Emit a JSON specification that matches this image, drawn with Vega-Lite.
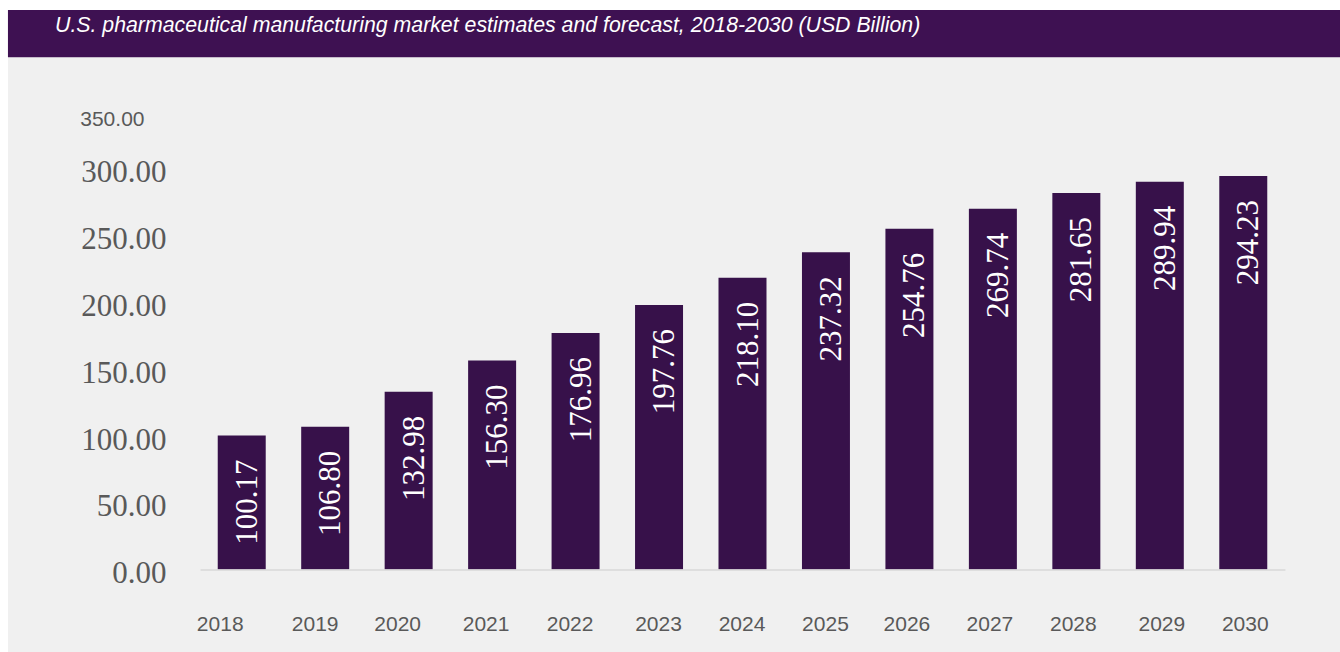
{
  "$schema": "https://vega.github.io/schema/vega-lite/v6.json",
  "autosize": {"type": "none"},
  "width": 1085,
  "height": 468,
  "padding": {"left": 200, "top": 101.5, "right": 55, "bottom": 82.5},
  "background": "#ffffff",
  "title": {
    "text": "U.S. pharmaceutical manufacturing market estimates and forecast, 2018-2030 (USD Billion)",
    "anchor": "start",
    "frame": "group",
    "dx": -145,
    "offset": -43.5,
    "baseline": "alphabetic",
    "font": "Liberation Sans",
    "fontSize": 21.3,
    "fontStyle": "italic",
    "fontWeight": "normal",
    "color": "#ffffff",
    "zindex": 2
  },
  "data": {
    "values": [
      {"year": 2018, "value": 100.17},
      {"year": 2019, "value": 106.80},
      {"year": 2020, "value": 132.98},
      {"year": 2021, "value": 156.30},
      {"year": 2022, "value": 176.96},
      {"year": 2023, "value": 197.76},
      {"year": 2024, "value": 218.10},
      {"year": 2025, "value": 237.32},
      {"year": 2026, "value": 254.76},
      {"year": 2027, "value": 269.74},
      {"year": 2028, "value": 281.65},
      {"year": 2029, "value": 289.94},
      {"year": 2030, "value": 294.23}
    ]
  },
  "layer": [
    {
      "data": {"values": [{"part": "background"}]},
      "mark": {"type": "rect", "color": "#f0f0f0", "clip": false},
      "encoding": {
        "x": {"datum": -0.177, "type": "quantitative", "scale": {"domain": [0, 1]}, "axis": null},
        "x2": {"datum": 1.06},
        "y": {"datum": -62, "type": "quantitative"},
        "y2": {"datum": 383.1}
      }
    },
    {
      "data": {"values": [{"part": "header"}]},
      "mark": {"type": "rect", "color": "#3e1152", "clip": false},
      "encoding": {
        "x": {"datum": -0.177, "type": "quantitative", "scale": {"domain": [0, 1]}, "axis": null},
        "x2": {"datum": 1.06},
        "y": {"datum": 383.1, "type": "quantitative"},
        "y2": {"datum": 418.4}
      }
    },
    {
      "layer": [
        {
          "mark": {"type": "bar", "color": "#37114a"},
          "encoding": {
            "x": {
              "field": "year",
              "type": "ordinal",
              "scale": {"paddingInner": 0.425, "paddingOuter": 0.2125},
              "axis": {
                "title": null,
                "zindex": 1,
                "ticks": false,
                "tickSize": 0,
                "domain": true,
                "domainColor": "#d9d9d9",
                "domainWidth": 1.5,
                "labelAngle": 0,
                "labelFont": "Liberation Sans",
                "labelFontSize": 21,
                "labelColor": "#595959",
                "labelPadding": 44,
                "labelBaseline": "top",
                "labelOffset": {
                  "condition": [
                    {"test": "datum.value == 2018", "value": -21.5},
                    {"test": "datum.value == 2019", "value": -10},
                    {"test": "datum.value == 2020", "value": -11},
                    {"test": "datum.value == 2021", "value": -6},
                    {"test": "datum.value == 2022", "value": -5.5},
                    {"test": "datum.value == 2026", "value": -2.5},
                    {"test": "datum.value == 2027", "value": -3},
                    {"test": "datum.value == 2028", "value": -3},
                    {"test": "datum.value == 2029", "value": 2},
                    {"test": "datum.value == 2030", "value": 2}
                  ],
                  "value": -0.5
                }
              }
            },
            "y": {
              "field": "value",
              "type": "quantitative",
              "scale": {"domain": [0, 350], "nice": false, "zero": true},
              "axis": {
                "title": null,
                "zindex": 1,
                "values": [0, 50, 100, 150, 200, 250, 300, 350],
                "format": ".2f",
                "grid": false,
                "domain": false,
                "ticks": false,
                "tickSize": 0,
                "labelPadding": {"condition": {"test": "datum.value == 350", "value": 56}, "value": 34},
                "labelColor": "#595959",
                "labelFont": {"condition": {"test": "datum.value == 350", "value": "Liberation Sans"}, "value": "Liberation Serif"},
                "labelFontSize": {"condition": {"test": "datum.value == 350", "value": 21}, "value": 31},
                "labelOffset": {"condition": {"test": "datum.value == 350", "value": 17.5}, "value": 4.3},
                "labelBaseline": "middle"
              }
            }
          }
        },
        {
          "mark": {
            "type": "text",
            "angle": 270,
            "align": "right",
            "baseline": "middle",
            "dx": -24,
            "dy": 6,
            "font": "Liberation Serif",
            "fontSize": 31,
            "color": "#ffffff"
          },
          "encoding": {
            "x": {"field": "year", "type": "ordinal"},
            "y": {"field": "value", "type": "quantitative"},
            "text": {"field": "value", "type": "quantitative", "format": ".2f"}
          }
        }
      ]
    }
  ],
  "resolve": {"scale": {"x": "independent"}, "axis": {"x": "independent"}},
  "config": {"view": {"stroke": null}}
}
